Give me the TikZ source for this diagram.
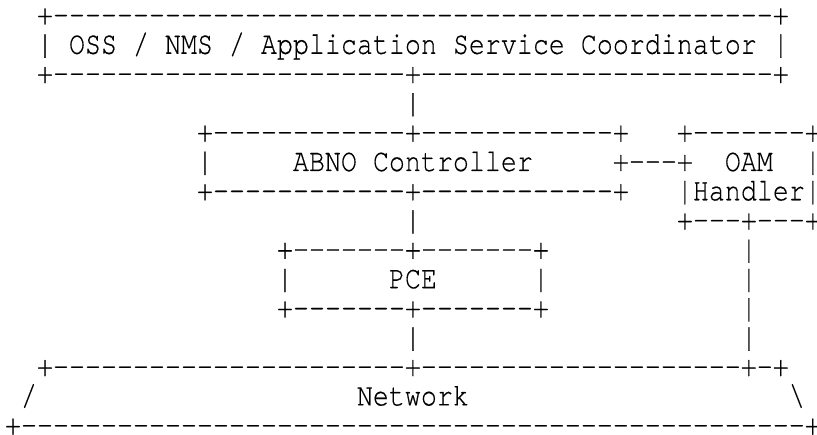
\documentclass[tikz,border=0pt]{standalone}
\usepackage{graphicx}
\usepackage{fontspec}
\newfontfamily\mono{texgyrecursor-regular.otf}[Ligatures=TeXOff,FakeBold=0.4]
\ExplSyntaxOn
\cs_new:Npn \rep #1#2 { \prg_replicate:nn {#1} {#2} }
\ExplSyntaxOff
\newcommand\vs[1]{\scalebox{1}[1.2]{#1}}
\frenchspacing
\begin{document}
\begin{tikzpicture}[x=1pt,y=1pt,
  asc/.style={anchor=base west, inner sep=0pt, outer sep=0pt,
    font=\mono\fontsize{26.66}{29.3}\selectfont, text=black}]
\useasboundingbox (0,0) rectangle (817,434);
% column c left edge = 5+16c ; row r baseline = 409.5-29.3r
\node[asc] (ossTop)    at (5+16*2, 409.5-29.3*0)  {\vs{+\rep{45}{-}+}};
\node[asc] (oss)       at (5+16*2, 409.5-29.3*1)  {\vs{|~OSS / NMS / Application Service Coordinator~|}};
\node[asc] (ossBot)    at (5+16*2, 409.5-29.3*2)  {\vs{+\rep{22}{-}+\rep{22}{-}+}};
\node[asc] (link1)     at (5+16*25,409.5-29.3*3)  {\vs{|}};
\node[asc] (abnoTop)   at (5+16*12,409.5-29.3*4)  {\vs{+\rep{12}{-}+\rep{12}{-}+~~~+\rep{7}{-}+}};
\node[asc] (abno)      at (5+16*12,409.5-29.3*5)  {\vs{|\rep{5}{~}ABNO Controller\rep{5}{~}+---+~~OAM~~|}};
\node[asc] (abnoBot)   at (5+16*12,409.5-29.3*6)  {\vs{+\rep{12}{-}+\rep{12}{-}+~~~|Handler|}};
\node[asc] (link2)     at (5+16*25,409.5-29.3*7)  {\vs{|\rep{16}{~}+---+---+}};
\node[asc] (pceTop)    at (5+16*17,409.5-29.3*8)  {\vs{+\rep{7}{-}+\rep{7}{-}+\rep{12}{~}|}};
\node[asc] (pce)       at (5+16*17,409.5-29.3*9)  {\vs{|\rep{6}{~}PCE\rep{6}{~}|\rep{12}{~}|}};
\node[asc] (pceBot)    at (5+16*17,409.5-29.3*10) {\vs{+\rep{7}{-}+\rep{7}{-}+\rep{12}{~}|}};
\node[asc] (link3)     at (5+16*25,409.5-29.3*11) {\vs{|\rep{20}{~}|}};
\node[asc] (netTop)    at (5+16*2, 409.5-29.3*12) {\vs{+\rep{22}{-}+\rep{20}{-}+-+}};
\node[asc] (net)       at (5+16*1, 409.5-29.3*13) {\vs{/\rep{20}{~}Network\rep{20}{~}\textbackslash}};
\node[asc] (netBot)    at (5+16*0, 409.5-29.3*14) {\vs{+\rep{49}{-}+}};
\end{tikzpicture}
\end{document}
